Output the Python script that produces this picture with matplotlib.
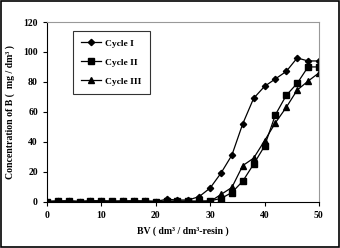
import matplotlib
matplotlib.use("Agg")
import matplotlib.pyplot as plt
from matplotlib.patches import Rectangle

bv = [0, 2, 4, 6, 8, 10, 12, 14, 16, 18, 20, 22, 24, 26, 28, 30, 32, 34, 36, 38, 40, 42, 44, 46, 48, 50]
cycle1 = [0, 0.3, 0.3, 0, 0.3, 0.3, 0, 0.3, 0.3, 0.3, 0, 1.5, 1, 1, 3.3, 9, 19, 31, 52, 69, 77, 82, 87, 96, 94, 94]
cycle2 = [0, 0.3, 0.5, 0, 0.5, 0.5, 0.3, 0.3, 0.5, 0.3, 0, 0.3, 0.3, 0.3, 0.3, 0.5, 2, 6, 13.6, 25, 37, 58, 71, 79, 90, 90]
cycle3 = [0, 0, 0, 0, 0, 0, 0, 0, 0, 0, 0, 0, 0, 0, 0, 0, 4.7, 9.4, 24, 29, 40.6, 52.6, 63, 74.5, 80.5, 86]
labels = ["Cycle I", "Cycle II", "Cycle III"]
xticks = [0, 10, 20, 30, 40, 50]
yticks = [0, 20, 40, 60, 80, 100, 120]

plt.rcParams['font.family'] = ['Liberation Serif', 'DejaVu Serif']
plt.rcParams['font.weight'] = 'bold'
fs = 7

fig = plt.figure(figsize=(3.4, 2.48), dpi=100)
fig.patches.append(Rectangle((0.003, 0.004), 0.994, 0.992, transform=fig.transFigure,
                             fill=False, edgecolor='black', linewidth=1.2))
ax = fig.add_axes([0.138, 0.1875, 0.800, 0.7235])

ax.plot(bv, cycle1, '-', marker='D', color='black', lw=0.9, markersize=3.2, label=labels[0])
ax.plot(bv, cycle2, '-', marker='s', color='black', lw=0.9, markersize=4, label=labels[1])
ax.plot(bv, cycle3, '-', marker='^', color='black', lw=0.9, markersize=4.2, label=labels[2])

ax.set_xlim(0, 50)
ax.set_ylim(0, 120)
ax.set_xticks(xticks)
ax.set_yticks(yticks)
ax.tick_params(labelsize=fs, length=3, width=0.8, direction='out')
for lab in ax.get_xticklabels() + ax.get_yticklabels():
    lab.set_fontweight('bold')
ax.spines['top'].set_color('#999999')
ax.spines['right'].set_color('#999999')
ax.spines['top'].set_linewidth(0.8)
ax.spines['right'].set_linewidth(0.8)

ax.set_xlabel("BV ( dm³ / dm³-resin )", fontsize=fs, fontweight='bold', labelpad=5)
ax.set_ylabel("Concentration of B (  mg / dm³ )", fontsize=fs, fontweight='bold', labelpad=6)

leg = ax.legend(loc='upper left', bbox_to_anchor=(0.095, 0.953), fontsize=6.8, frameon=True,
                fancybox=False, edgecolor='black', handlelength=2.1, labelspacing=1.1,
                borderpad=0.9, borderaxespad=0, handletextpad=0.4)
leg.get_frame().set_linewidth(0.8)
for t in leg.get_texts():
    t.set_fontweight('bold')

fig.savefig("out.png", dpi=100)
